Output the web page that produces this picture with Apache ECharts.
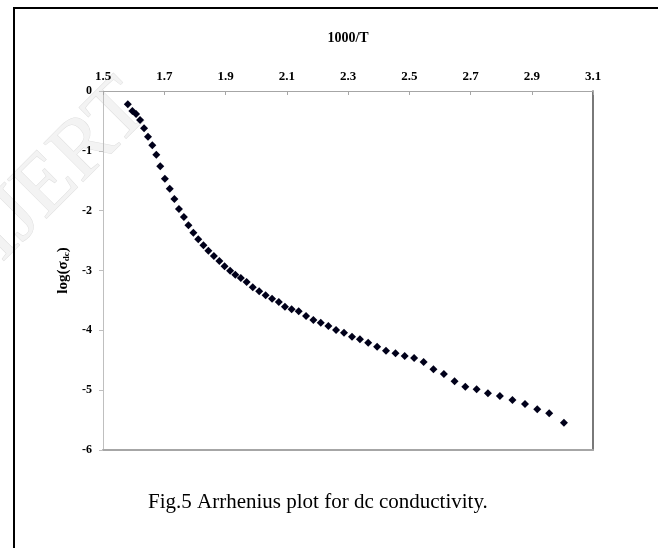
<!DOCTYPE html>
<html>
<head>
<meta charset="utf-8">
<script src="https://cdn.jsdelivr.net/npm/echarts@6/dist/echarts.min.js"></script>
<style>
  html, body { margin: 0; padding: 0; background: #fff; }
  #main { width: 658px; height: 548px; }
</style>
</head>
<body>
<div id="main"></div>
<script>
// data
var invT = [1.581, 1.596, 1.608, 1.621, 1.634, 1.647, 1.661, 1.674, 1.687, 1.702,
  1.718, 1.733, 1.748, 1.764, 1.779, 1.795, 1.811, 1.828, 1.844, 1.862,
  1.880, 1.897, 1.915, 1.932, 1.950, 1.969, 1.989, 2.010, 2.031, 2.052,
  2.074, 2.094, 2.116, 2.139, 2.163, 2.187, 2.211, 2.236, 2.261, 2.287,
  2.313, 2.339, 2.366, 2.395, 2.424, 2.455, 2.485, 2.516, 2.547, 2.579,
  2.613, 2.648, 2.683, 2.720, 2.757, 2.796, 2.837, 2.878, 2.918, 2.957, 3.005];
var logSigma = [-0.222, -0.334, -0.384, -0.485, -0.623, -0.764, -0.908, -1.065, -1.259, -1.466,
  -1.633, -1.805, -1.972, -2.106, -2.245, -2.368, -2.479, -2.579, -2.669, -2.758,
  -2.841, -2.930, -3.003, -3.070, -3.126, -3.192, -3.281, -3.348, -3.415, -3.471,
  -3.527, -3.605, -3.649, -3.682, -3.761, -3.827, -3.873, -3.928, -3.995, -4.040,
  -4.107, -4.150, -4.207, -4.274, -4.341, -4.384, -4.429, -4.463, -4.529, -4.652,
  -4.730, -4.852, -4.942, -4.986, -5.053, -5.098, -5.165, -5.231, -5.320, -5.387, -5.544];
var xTicks = [1.5, 1.7, 1.9, 2.1, 2.3, 2.5, 2.7, 2.9, 3.1];
var yTicks = [0, -1, -2, -3, -4, -5, -6];

var serif = '"Liberation Serif", "Times New Roman", serif';
var chart = echarts.init(document.getElementById('main'));

var points = invT.map(function (x, i) { return [x, logSigma[i]]; });

var option = {
  animation: false,
  title: {
    text: 'Fig.5 Arrhenius plot for dc conductivity.',
    left: 143,
    top: 487,
    textStyle: { fontFamily: serif, fontSize: 21, fontWeight: 'normal', color: '#000' }
  },
  graphic: [{
    // faint watermark in the upper-left corner
    type: 'text',
    x: 108, y: 66,
    rotation: Math.PI / 4,
    z: -10,
    style: {
      text: 'IJERT',
      font: '84px ' + serif,
      fill: '#f3f3f3',
      stroke: '#dedede',
      lineWidth: 1,
      align: 'right',
      verticalAlign: 'top'
    }
  }, {
    type: 'rect',
    z: 100,
    shape: { x: 14, y: 8, width: 800, height: 700 },
    style: { fill: 'none', stroke: '#000', lineWidth: 2 }
  }],
  grid: { left: 103, top: 91, right: 65, bottom: 98, show: false },
  xAxis: [{
    type: 'value',
    position: 'top',
    min: 1.5, max: 3.1,
    name: '1000/T',
    nameLocation: 'middle',
    nameGap: 46,
    nameTextStyle: { fontFamily: serif, fontSize: 14, fontWeight: 'bold', color: '#000' },
    axisLine: { onZero: false, lineStyle: { color: '#a6a6a6', width: 1 } },
    axisTick: { inside: true, length: 4, customValues: xTicks, lineStyle: { color: '#a6a6a6' } },
    axisLabel: {
      customValues: xTicks,
      margin: 8,
      formatter: function (v) { return v.toFixed(1); },
      fontFamily: serif, fontSize: 13, fontWeight: 'bold', color: '#000'
    },
    splitLine: { show: false }
  }, {
    type: 'value',
    position: 'bottom',
    min: 1.5, max: 3.1,
    axisLine: { onZero: false, lineStyle: { color: '#a6a6a6', width: 2 } },
    axisTick: { show: false },
    axisLabel: { show: false },
    splitLine: { show: false }
  }],
  yAxis: [{
    type: 'value',
    position: 'left',
    min: -6, max: 0, interval: 1,
    name: '{a|log(σ}{sub|dc}{a|)}',
    nameLocation: 'middle',
    nameGap: 30,
    nameTextStyle: {
      rich: {
        a: { fontFamily: serif, fontSize: 15, fontWeight: 'bold', color: '#000' },
        sub: { fontFamily: serif, fontSize: 9, fontWeight: 'bold', color: '#000', verticalAlign: 'bottom', padding: [4, 0, 0, 0] }
      }
    },
    axisLine: { onZero: false, lineStyle: { color: '#bfbfbf', width: 1 } },
    axisTick: { show: true, length: 4, customValues: yTicks, lineStyle: { color: '#bfbfbf' } },
    axisLabel: {
      customValues: yTicks,
      margin: 11,
      fontFamily: serif, fontSize: 12, fontWeight: 'bold', color: '#000'
    },
    splitLine: { show: false }
  }, {
    type: 'value',
    position: 'right',
    min: -6, max: 0,
    axisLine: { show: true, onZero: false, lineStyle: { color: '#4d4d4d', width: 1.5 } },
    axisTick: { show: false },
    axisLabel: { show: false },
    splitLine: { show: false }
  }],
  series: [{
    type: 'scatter',
    xAxisIndex: 0,
    yAxisIndex: 0,
    symbol: 'diamond',
    symbolSize: 8,
    itemStyle: { color: '#00001a', opacity: 1 },
    data: points
  }]
};

chart.setOption(option);
</script>
</body>
</html>
